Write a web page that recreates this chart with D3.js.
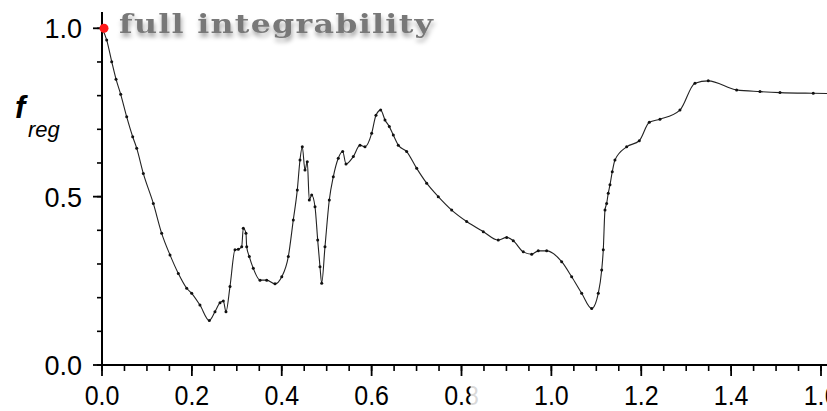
<!DOCTYPE html>
<html>
<head>
<meta charset="utf-8">
<script src="https://cdn.jsdelivr.net/npm/d3@7"></script>
<style>
  html, body { margin: 0; padding: 0; background: #fff; }
  svg { display: block; }
</style>
</head>
<body>
<svg id="chart" width="827" height="411"></svg>
<script>
// Fraction of regular phase space f_reg versus perturbation parameter
const xValues = [
  0, 0.0105, 0.0216, 0.0312, 0.0416, 0.055, 0.0683, 0.0772, 0.0919, 0.1142,
  0.1328, 0.1513, 0.1698, 0.1885, 0.1996, 0.218, 0.2388, 0.2514, 0.2626, 0.270,
  0.2759, 0.2848, 0.296, 0.3033, 0.3109, 0.3144, 0.3204, 0.322, 0.3278, 0.3367,
  0.3516, 0.3665, 0.385, 0.40, 0.4146, 0.4257, 0.4346, 0.4406, 0.4457, 0.4517,
  0.4568, 0.4613, 0.4666, 0.474, 0.48, 0.4851, 0.4889, 0.4962, 0.5058, 0.5147,
  0.5258, 0.5356, 0.543, 0.5592, 0.5741, 0.5852, 0.6001, 0.6097, 0.6202, 0.6297,
  0.6393, 0.6482, 0.6593, 0.678, 0.7003, 0.7225, 0.7483, 0.7781, 0.8115, 0.8485,
  0.8818, 0.9005, 0.9152, 0.9375, 0.9562, 0.9708, 0.9895, 1.0229, 1.0452, 1.0674,
  1.0897, 1.1044, 1.112, 1.1155, 1.1193, 1.123, 1.1266, 1.1304, 1.1355, 1.1415,
  1.1675, 1.1956, 1.2179, 1.2416, 1.2861, 1.3195, 1.3491, 1.4123, 1.4642, 1.5087,
  1.5828, 1.64
];
const fregValues = [
  1.0, 0.965, 0.901, 0.849, 0.804, 0.737, 0.678, 0.644, 0.569, 0.480,
  0.391, 0.327, 0.272, 0.228, 0.213, 0.178, 0.132, 0.158, 0.185, 0.190,
  0.158, 0.233, 0.342, 0.344, 0.351, 0.406, 0.391, 0.351, 0.322, 0.287,
  0.252, 0.252, 0.241, 0.262, 0.322, 0.431, 0.520, 0.609, 0.648, 0.579,
  0.604, 0.490, 0.505, 0.470, 0.371, 0.292, 0.243, 0.351, 0.490, 0.559,
  0.614, 0.634, 0.597, 0.619, 0.653, 0.648, 0.688, 0.742, 0.757, 0.728,
  0.708, 0.683, 0.653, 0.634, 0.584, 0.540, 0.500, 0.460, 0.426, 0.396,
  0.371, 0.379, 0.369, 0.336, 0.329, 0.339, 0.339, 0.307, 0.262, 0.213,
  0.168, 0.213, 0.282, 0.342, 0.460, 0.480, 0.510, 0.535, 0.574, 0.609,
  0.648, 0.666, 0.721, 0.730, 0.757, 0.837, 0.844, 0.817, 0.812, 0.809,
  0.807, 0.806
];
const xTickValues = [0, 0.2, 0.4, 0.6, 0.8, 1.0, 1.2, 1.4, 1.6];
const xTickLabels = ["0.0", "0.2", "0.4", "0.6", "0.8", "1.0", "1.2", "1.4", "1.6"];
const yTickValues = [0, 0.5, 1.0];
const yTickLabels = ["0.0", "0.5", "1.0"];
const titleText = "full integrability";

const svg = d3.select("#chart");
const W = 827, H = 411;

const x = d3.scaleLinear().domain([0, 1.6]).range([102, 821]);
const y = d3.scaleLinear().domain([0, 1.0]).range([365, 28.3]);

const points = xValues.map((v, i) => ({ x: v, y: fregValues[i] }));

// Title with soft drop shadow
const defs = svg.append("defs");
const f = defs.append("filter").attr("id", "softShadow")
  .attr("x", "-10%").attr("y", "-40%").attr("width", "120%").attr("height", "200%");
f.append("feGaussianBlur").attr("in", "SourceAlpha").attr("stdDeviation", 2.2).attr("result", "b");
f.append("feOffset").attr("in", "b").attr("dx", 1).attr("dy", 4).attr("result", "o");
f.append("feFlood").attr("flood-color", "#000").attr("flood-opacity", 0.35).attr("result", "c");
f.append("feComposite").attr("in", "c").attr("in2", "o").attr("operator", "in").attr("result", "s");
const m = f.append("feMerge");
m.append("feMergeNode").attr("in", "s");
m.append("feMergeNode").attr("in", "SourceGraphic");

svg.append("g")
  .attr("transform", "translate(119,33) scale(1.22,1)")
  .attr("filter", "url(#softShadow)")
  .append("text")
  .attr("x", 0).attr("y", 0)
  .attr("font-family", "DejaVu Serif")
  .attr("font-weight", "bold")
  .attr("font-size", 26)
  .attr("fill", "#787878")
  .attr("textLength", 314 / 1.22)
  .attr("lengthAdjust", "spacing")
  .text(titleText);

// Curve
const line = d3.line().x(d => x(d.x)).y(d => y(d.y)).curve(d3.curveMonotoneX);
svg.append("path")
  .datum(points)
  .attr("d", line)
  .attr("fill", "none")
  .attr("stroke", "#222")
  .attr("stroke-width", 1.1);

svg.append("g").selectAll("circle")
  .data(points.slice(1))
  .join("circle")
  .attr("cx", d => x(d.x)).attr("cy", d => y(d.y))
  .attr("r", 1.5)
  .attr("fill", "#111");

// Axes
const axisFont = "Liberation Sans, Arial, sans-serif";
const xAxis = svg.append("g");
xAxis.append("line")
  .attr("x1", x(0) - 1).attr("x2", W).attr("y1", y(0)).attr("y2", y(0))
  .attr("stroke", "#000").attr("stroke-width", 2);
const xMinor = d3.range(0, 33).map(i => i * 0.05).filter(v => v <= 1.65);
xAxis.selectAll("line.minor").data(xMinor).join("line")
  .attr("class", "minor")
  .attr("x1", d => x(d)).attr("x2", d => x(d))
  .attr("y1", y(0)).attr("y2", y(0) + 6)
  .attr("stroke", "#000").attr("stroke-width", 1.6);
xAxis.selectAll("line.major").data(xTickValues).join("line")
  .attr("class", "major")
  .attr("x1", d => x(d)).attr("x2", d => x(d))
  .attr("y1", y(0)).attr("y2", y(0) + 11)
  .attr("stroke", "#000").attr("stroke-width", 1.8);
xAxis.selectAll("text").data(xTickValues).join("text")
  .attr("x", d => x(d)).attr("y", 405)
  .attr("text-anchor", "middle")
  .attr("font-family", axisFont)
  .attr("font-size", 25)
  .attr("transform", d => `translate(${x(d)},405) scale(1,1.08) translate(${-x(d)},-405)`)
  .attr("fill", "#000")
  .text((d, i) => xTickLabels[i]);
// right half of the "0.8" label is faded out
svg.append("rect")
  .attr("x", x(0.8) + 9).attr("y", 384).attr("width", 9).attr("height", 26)
  .attr("fill", "#fff").attr("opacity", 0.85);

const yAxis = svg.append("g");
yAxis.append("line")
  .attr("x1", x(0)).attr("x2", x(0)).attr("y1", 12).attr("y2", y(0) + 1)
  .attr("stroke", "#000").attr("stroke-width", 2);
const yMinor = d3.range(0, 11).map(i => i * 0.1);
yAxis.selectAll("line.minor").data(yMinor).join("line")
  .attr("class", "minor")
  .attr("x1", x(0) - 5).attr("x2", x(0))
  .attr("y1", d => y(d)).attr("y2", d => y(d))
  .attr("stroke", "#000").attr("stroke-width", 1.6);
yAxis.selectAll("line.major").data(yTickValues).join("line")
  .attr("class", "major")
  .attr("x1", x(0) - 9).attr("x2", x(0))
  .attr("y1", d => y(d)).attr("y2", d => y(d))
  .attr("stroke", "#000").attr("stroke-width", 1.8);
yAxis.selectAll("text").data(yTickValues).join("text")
  .attr("x", 82).attr("y", d => y(d) + 10)
  .attr("text-anchor", "end")
  .attr("font-family", axisFont)
  .attr("font-size", 27)
  .attr("fill", "#000")
  .text((d, i) => yTickLabels[i]);

// Axis title f_reg
const yt = svg.append("text")
  .attr("font-family", axisFont)
  .attr("font-style", "italic")
  .attr("fill", "#000");
yt.append("tspan").attr("x", 15).attr("y", 118)
  .attr("font-size", 31).attr("font-weight", "bold").text("f");
yt.append("tspan").attr("x", 28).attr("y", 137)
  .attr("font-size", 22).text("reg");

// Integrable limit marker
svg.append("circle")
  .attr("cx", x(0) + 2).attr("cy", y(1.0))
  .attr("r", 4.5)
  .attr("fill", "#ff1a1a");
</script>
</body>
</html>
